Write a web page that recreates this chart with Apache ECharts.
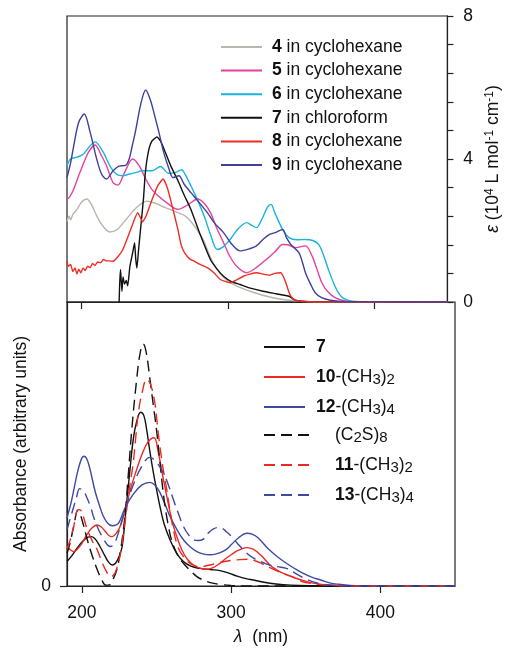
<!DOCTYPE html>
<html>
<head>
<meta charset="utf-8">
<title>UV-vis spectra</title>
<script src="https://cdn.jsdelivr.net/npm/echarts@6/dist/echarts.min.js"></script>
<style>
  html, body { margin: 0; padding: 0; background: #fff; }
  #main { width: 514px; height: 648px; }
</style>
</head>
<body>
<div id="main"></div>
<script>
// tick values
var xTicks = [200, 300, 400]
var epsLabels = [0, 4, 8]
var absTicks = [0]

// top panel: [wavelength nm, epsilon in 10^4 L mol-1 cm-1]
var eps4 = [[190, 2.25], [191.5, 2.4], [192.5, 2.3], [194, 2.45], [197, 2.6], [200, 2.8], [203.6, 2.88], [207, 2.7],
  [210.3, 2.41], [214, 2.15], [219.3, 1.96], [224, 2.02], [230.4, 2.31], [237, 2.62], [244.5, 2.82], [250, 2.77],
  [257.2, 2.64], [265.8, 2.5], [270.7, 2.41], [274.7, 2.25], [280, 1.95], [283.7, 1.7], [287, 1.35], [292.6, 0.91],
  [301.5, 0.54], [315, 0.3], [330.7, 0.12], [345, 0.04], [360, 0], [450, 0]]
var eps5 = [[190, 2.87], [192, 2.95], [194.6, 3.16], [198.8, 3.62], [204.7, 4.19], [209.2, 4.39], [213.6, 4.09],
  [217, 3.81], [221.5, 3.34], [224.8, 3.27], [229.3, 3.62], [234.9, 4.0], [239.4, 3.81], [243.8, 3.44], [248, 3.15],
  [252.3, 2.97], [258, 2.78], [265.8, 2.59], [272, 2.7], [279.2, 2.88], [284, 2.75], [288.1, 2.5], [292, 2.1],
  [297, 1.66], [301, 1.3], [306, 1.0], [312.8, 0.82], [319, 0.95], [326.2, 1.19], [332, 1.4], [337.4, 1.61],
  [341, 1.6], [346.3, 1.52], [353, 1.57], [357.5, 1.29], [361, 0.9], [364.2, 0.54], [368, 0.3], [373.2, 0.12],
  [380, 0.03], [390, 0], [450, 0]]
var eps6 = [[190, 3.81], [192.4, 4.0], [196.8, 4.05], [201.3, 4.14], [205.8, 4.37], [209.2, 4.48], [214.8, 4.19],
  [219.3, 3.81], [223.7, 3.58], [228, 3.53], [232.7, 3.58], [237, 3.62], [241.6, 3.67], [248.3, 3.67], [253.9, 3.79],
  [259.5, 3.6], [264, 3.62], [268.3, 3.7], [271, 3.55], [274.7, 3.25], [279, 2.87], [283.7, 2.41], [288, 1.9],
  [292.6, 1.47], [297, 1.55], [301.5, 1.75], [307, 2.05], [312.8, 2.22], [316, 2.15], [319.5, 2.08], [323, 2.3],
  [327, 2.65], [329.5, 2.73], [332, 2.5], [337.4, 2.03], [341.8, 1.8], [347, 1.74], [353, 1.75], [358, 1.72],
  [362, 1.61], [365, 1.35], [368.7, 0.91], [372, 0.55], [375.4, 0.26], [379, 0.1], [385, 0.02], [400, 0], [450, 0]]
var eps7 = [[225.3, -0.5], [226, 0.5], [226.6, 0.91], [227.5, 0.3], [228.3, 0.7], [229.3, 0.5], [230.5, 0.6],
  [231.5, 0.45], [233, 1.0], [234.9, 1.38], [236.2, 1.66], [237, 1.2], [237.8, 0.95], [239, 1.5], [240.5, 2.13],
  [242.3, 2.9], [243.5, 3.6], [245.6, 4.2], [248, 4.5], [251.5, 4.62], [254, 4.5], [257.2, 4.19], [261, 3.8],
  [265.8, 3.4], [270, 3.0], [274.7, 2.59], [281.4, 1.85], [288, 1.19], [293, 0.9], [297, 0.72], [302, 0.58],
  [308.3, 0.49], [316, 0.38], [324, 0.3], [333, 0.23], [341.8, 0.16], [346, 0.05], [355, 0.01], [450, 0]]
var eps8 = [[190, 1.14], [191, 1.0], [192.5, 1.05], [194, 0.85], [195.5, 0.95], [196.8, 0.78], [198, 0.92],
  [199.5, 0.82], [201, 0.95], [202.5, 0.88], [204, 1.0], [205.8, 0.96], [207.5, 1.08], [209, 1.02], [211, 1.12],
  [213, 1.1], [214.8, 1.19], [217, 1.15], [219, 1.15], [221.5, 1.14], [224.5, 1.25], [228.2, 1.47], [232.7, 1.94],
  [236, 2.3], [238.3, 2.5], [240, 2.38], [241.6, 2.24], [244, 2.4], [248.3, 2.88], [252, 3.25], [255.7, 3.44],
  [258.5, 3.2], [261.3, 2.78], [265.8, 2.03], [268, 1.6], [270.3, 1.38], [274, 1.2], [277, 1.14], [281, 1.05],
  [285.9, 0.96], [290.4, 0.82], [294.8, 0.63], [301.5, 0.54], [306, 0.62], [310.5, 0.72], [315, 0.78],
  [319.5, 0.82], [324, 0.78], [328.4, 0.75], [332, 0.8], [336.2, 0.82], [338, 0.7], [339.6, 0.54], [341.5, 0.3],
  [343, 0.16], [346, 0.05], [350, 0.02], [360, 0], [450, 0]]
var eps9 = [[190, 3.48], [192.5, 3.9], [194.6, 4.37], [198, 5.03], [201.8, 5.26], [205.8, 4.75], [210.3, 4.0],
  [213.6, 3.58], [217, 3.44], [221.5, 3.67], [225.5, 3.8], [230, 3.82], [232.5, 4.0], [234.5, 4.35], [236.7, 4.75],
  [240.5, 5.55], [243.8, 5.93], [247, 5.65], [250, 5.2], [252.8, 4.75], [256, 4.2], [259.5, 3.75], [262.4, 3.48],
  [266.5, 3.53], [270, 3.3], [274.7, 3.06], [280, 2.8], [285.9, 2.5], [291, 2.2], [297, 1.94], [303, 1.6],
  [308.3, 1.43], [314, 1.48], [319.5, 1.57], [324, 1.75], [328.4, 1.89], [333, 1.95], [337.4, 2.03], [340, 1.8],
  [343, 1.61], [348.5, 1.38], [351, 1.1], [353, 0.82], [356.5, 0.5], [359.7, 0.26], [364, 0.12], [370, 0.05],
  [380, 0.01], [450, 0]]

// bottom panel: [wavelength nm, absorbance, arbitrary units]
var abs7 = [[190, 8.6], [193, 10.5], [197, 13.5], [201, 16], [204, 17.2], [206.5, 17.4], [209, 16.5], [212, 14],
  [215.5, 10.5], [218, 8.3], [220.3, 7.4], [222.5, 8], [225, 10.5], [227, 14], [229, 24], [230.5, 32], [232.2, 41],
  [234.4, 51.6], [236.5, 57.5], [239.4, 61.2], [241.5, 60], [243.4, 55], [245.5, 47.5], [247.9, 39.8], [250, 34],
  [252.3, 28], [255, 22], [259, 16.3], [263.5, 11.5], [268, 8.6], [273, 7], [279, 6.2], [286, 5.8], [292.6, 5.4],
  [298, 4.6], [304, 3.5], [310, 2.6], [315, 2.1], [322, 1.3], [330, 0.7], [340, 0.3], [355, 0.1], [375, 0], [450, 0]]
var abs10 = [[190, 13.9], [192, 12.8], [194.6, 12.1], [197, 13], [200, 15], [203, 17.8], [206.5, 20.3], [210, 21.5],
  [213, 20.8], [216, 19], [218, 17.8], [220.3, 17.4], [223, 18.5], [226, 21.5], [229, 27], [233, 35], [236.7, 41],
  [240, 46], [244, 50.5], [248.3, 52.2], [251, 47.5], [254.6, 37.5], [257.5, 30], [260.2, 23.3], [263.5, 17.5],
  [267, 12.7], [270.5, 9.5], [274.7, 7.4], [279, 6.3], [283.7, 5.9], [288, 6.5], [292, 7.8], [296, 9.5], [300, 11],
  [305, 12.6], [310.5, 13.5], [315, 12.9], [320, 10.8], [326, 7.4], [331, 5.5], [337, 4], [342, 3], [348, 2],
  [355, 1], [362, 0.5], [375, 0.1], [390, 0], [450, 0]]
var abs12 = [[190, 24], [193, 30], [197, 40], [199.5, 44.5], [201.3, 45.7], [203, 45], [205, 42], [209, 33], [212, 28],
  [214, 25], [217, 22.3], [220.3, 21.2], [223, 21.5], [225, 22.5], [229, 27.6], [234, 32], [240, 35.5], [245.6, 36.5],
  [249, 35.5], [252.3, 32.9], [255.5, 29], [259, 24.5], [263.5, 20], [268, 16.3], [272.5, 13.8], [277, 12.1],
  [281, 11.3], [286, 11], [290, 11.3], [293, 11.8], [297, 13], [300, 14.5], [305, 17], [310.5, 18.6], [314, 18.3],
  [318, 17], [325, 13], [331, 10.3], [337, 8], [343, 6], [348, 4.5], [354, 3.1], [360, 2.1], [366, 1.1], [372, 0.6],
  [380, 0.2], [392, 0], [450, 0]]
var absC2S8 = [[190, 11.5], [192, 15], [194.5, 21], [197.3, 26.6], [199, 25], [201, 21.5], [203.6, 16.3], [207, 10.5],
  [210.3, 5.7], [213, 2.5], [216, 0.3], [218.5, 0.4], [221, 2.5], [223.5, 6], [226, 13], [228.5, 23], [231, 38.6],
  [233.4, 55], [236.7, 72.8], [239, 82], [241.1, 85.2], [243, 82.5], [245.6, 72.8], [248, 63], [250, 55], [252.3, 43.5],
  [254, 35], [255.7, 28], [258, 21], [260, 16.3], [264, 11], [268, 8], [272.5, 5.5], [277, 3.3], [281.4, 2.1],
  [286, 1.2], [292, 0.6], [300, 0.2], [315, 0], [450, 0]]
var abs11 = [[190, 13], [192, 16], [194.5, 21], [197.5, 26.9], [199.5, 26.5], [201.5, 23.5], [203.6, 19.8], [207, 15.8],
  [210.3, 12.7], [213, 9], [216, 5.5], [219.3, 3.3], [221.5, 4], [223.5, 6.5], [226, 12], [229, 23], [232, 35],
  [234.4, 43.4], [236, 52], [237.8, 61], [240.5, 68.5], [243.4, 72.8], [246, 71], [249, 64], [250.5, 57], [252.3, 49],
  [254.5, 41], [256.8, 34], [259, 26.5], [261.3, 19.8], [264.5, 13.5], [268, 10.4], [273, 7.8], [279, 6.8],
  [285, 7.3], [292, 8.2], [300, 9], [306, 9.3], [311.6, 9.4], [316, 8.9], [321, 7.8], [326, 6.5], [331, 5.2],
  [337, 4], [343, 2.8], [348, 1.5], [354, 0.9], [360, 0.5], [370, 0.15], [385, 0], [450, 0]]
var abs13 = [[190, 19.8], [192, 23.5], [194, 27], [196.5, 31.5], [198.5, 34.3], [201, 33.5], [203, 31.5], [206, 27.5],
  [208, 24], [211, 20], [214, 17], [217, 14.5], [219, 13.9], [221.5, 14.8], [224, 18], [226.5, 22.5], [229, 27],
  [234, 35], [240, 42], [245.6, 45.3], [250, 43.5], [254.6, 39.8], [258, 35.5], [261.3, 30.4], [265, 25], [268, 21],
  [271.5, 18], [274.7, 16.3], [278, 16], [281.4, 16.5], [285, 18.8], [288.5, 20.2], [291.5, 20.6], [294, 20.3],
  [297, 19], [301, 17], [305, 14.5], [310, 11.8], [315, 9.8], [320, 8.6], [325, 7.5], [331, 6.8], [337, 6.2],
  [342, 4.8], [348, 3], [354, 1.6], [360, 0.8], [368, 0.3], [380, 0], [450, 0]]

// legend texts
var topNames = ['4', '5', '6', '7', '8', '9']
var topSolvents = ['cyclohexane', 'cyclohexane', 'cyclohexane', 'chloroform', 'cyclohexane', 'cyclohexane']
var bottomNames = ['A7', 'A10', 'A12', 'C2S8', 'A11', 'A13']
var bottomLabels = ['{b|7}', '{b|10}-(CH{s|3}){s|2}', '{b|12}-(CH{s|3}){s|4}',
  '(C{s|2}S){s|8}', '{b|11}-(CH{s|3}){s|2}', '{b|13}-(CH{s|3}){s|4}']

var FONT = '"Liberation Sans", Arial, Helvetica, sans-serif'
var FS = 17.5
var ink = '#111'
var axisColor = '#222'

var richText = {
  b: {fontWeight: 'bold', fontSize: FS, fontFamily: FONT, color: ink, lineHeight: 20},
  i: {fontStyle: 'italic', fontSize: FS, fontFamily: FONT, color: ink},
  s: {fontSize: 15, fontFamily: FONT, color: ink, lineHeight: 14, padding: [15, 0, 0, 0], verticalAlign: 'bottom'},
  sup: {fontSize: 12, fontFamily: FONT, color: ink, lineHeight: 12, padding: [0, 0, 10, 0], verticalAlign: 'top'}
}

// hide the round marker that line legends draw in the middle of the sample
var noMarker = {color: 'rgba(0,0,0,0)', borderColor: 'rgba(0,0,0,0)', borderWidth: 0}

function topSeries (idx, data, color, smooth) {
  return {
    name: topNames[idx], type: 'line', xAxisIndex: 0, yAxisIndex: 0,
    data: data, symbol: 'none', smooth: smooth,
    lineStyle: {color: color, width: 1.4}, itemStyle: {color: color}
  }
}
function bottomSeries (idx, data, color, dashed) {
  return {
    name: bottomNames[idx], type: 'line', xAxisIndex: 1, yAxisIndex: 1,
    data: data, symbol: 'none', smooth: 0.4,
    lineStyle: {color: color, width: 1.4, type: dashed ? [11, 6] : 'solid'},
    itemStyle: {color: color}
  }
}

var chart = echarts.init(document.getElementById('main'))

var option = {
  animation: false,
  backgroundColor: '#fff',
  textStyle: {fontFamily: FONT, color: ink},
  grid: [
    {left: 67, top: 16, width: 388, height: 286, show: true, borderColor: axisColor, borderWidth: 1.2},
    {left: 67, top: 302, width: 388, height: 284, show: true, borderColor: axisColor, borderWidth: 1.2}
  ],
  xAxis: [
    {
      gridIndex: 0, type: 'value', min: 190, max: 450,
      axisLine: {lineStyle: {color: axisColor, width: 1.2}},
      axisTick: {customValues: xTicks, length: 7, lineStyle: {color: axisColor, width: 1.2}},
      axisLabel: {show: false},
      splitLine: {show: false}
    },
    {
      gridIndex: 1, type: 'value', min: 190, max: 450,
      axisLine: {lineStyle: {color: axisColor, width: 1.2}},
      axisTick: {customValues: xTicks, length: 7, lineStyle: {color: axisColor, width: 1.2}},
      axisLabel: {customValues: xTicks, fontSize: FS, fontFamily: FONT, color: ink, margin: 18},
      splitLine: {show: false},
      name: '{i|λ}  (nm)', nameLocation: 'middle', nameGap: 42,
      nameTextStyle: {fontSize: FS, fontFamily: FONT, color: ink, rich: richText}
    }
  ],
  yAxis: [
    {
      gridIndex: 0, type: 'value', position: 'right', min: 0, max: 8, interval: 0.8,
      axisLine: {show: true, lineStyle: {color: axisColor, width: 1.2}},
      axisTick: {show: true, length: 6, lineStyle: {color: axisColor, width: 1.2}},
      axisLabel: {customValues: epsLabels, fontSize: FS, fontFamily: FONT, color: ink, margin: 16},
      splitLine: {show: false},
      name: '{i|ε} (10{sup|4} L mol{sup|-1} cm{sup|-1})', nameLocation: 'middle', nameRotate: 90, nameGap: 33,
      nameTextStyle: {fontSize: FS, fontFamily: FONT, color: ink, rich: richText}
    },
    {
      gridIndex: 1, type: 'value', position: 'left', min: 0, max: 100,
      axisLine: {show: true, lineStyle: {color: axisColor, width: 1.2}},
      axisTick: {show: true, customValues: absTicks, length: 7, lineStyle: {color: axisColor, width: 1.2}},
      axisLabel: {customValues: absTicks, fontSize: FS, fontFamily: FONT, color: ink, margin: 16},
      splitLine: {show: false},
      name: 'Absorbance (arbitrary units)', nameLocation: 'middle', nameRotate: 90, nameGap: 34,
      nameTextStyle: {fontSize: FS, fontFamily: FONT, color: ink}
    }
  ],
  legend: [
    {
      data: topNames, orient: 'vertical', left: 220, top: 37, padding: 0,
      itemWidth: 41, itemHeight: 20, itemGap: 3.6, selectedMode: false, itemStyle: noMarker,
      formatter: function (name) {
        return '{b|' + name + '} in ' + topSolvents[topNames.indexOf(name)]
      },
      textStyle: {fontSize: FS, fontFamily: FONT, color: ink, lineHeight: 20, padding: [0, 0, 0, 5], rich: richText}
    },
    {
      data: bottomNames.slice(0, 3), orient: 'vertical', left: 263, top: 337, padding: 0,
      itemWidth: 41, itemHeight: 24, itemGap: 0, selectedMode: false, itemStyle: noMarker,
      formatter: function (name) { return bottomLabels[bottomNames.indexOf(name)] },
      textStyle: {fontSize: FS, fontFamily: FONT, color: ink, lineHeight: 20, padding: [0, 0, 0, 6], rich: richText}
    },
    {
      data: bottomNames.slice(3), orient: 'vertical', left: 263, top: 415, padding: 0,
      itemWidth: 50, itemHeight: 24, itemGap: 0, selectedMode: false, itemStyle: noMarker,
      formatter: function (name) { return bottomLabels[bottomNames.indexOf(name)] },
      textStyle: {fontSize: FS, fontFamily: FONT, color: ink, lineHeight: 20, padding: [0, 0, 0, 16], rich: richText}
    }
  ],
  series: [
    topSeries(0, eps4, '#b7b7ad', 0.3),
    topSeries(1, eps5, '#e8409c', 0.3),
    topSeries(2, eps6, '#19b3de', 0.3),
    topSeries(3, eps7, '#111111', 0.15),
    topSeries(4, eps8, '#ee2d22', 0.15),
    topSeries(5, eps9, '#3d4199', 0.3),
    bottomSeries(0, abs7, '#111111', false),
    bottomSeries(1, abs10, '#ea2a22', false),
    bottomSeries(2, abs12, '#3f49a3', false),
    bottomSeries(3, absC2S8, '#111111', true),
    bottomSeries(4, abs11, '#ea2a22', true),
    bottomSeries(5, abs13, '#3f49a3', true)
  ]
}

chart.setOption(option)
</script>
</body>
</html>
